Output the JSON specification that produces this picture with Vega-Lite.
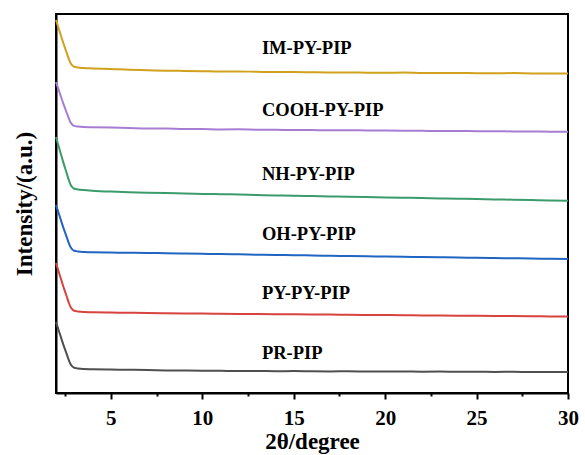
{
"$schema":"https://vega.github.io/schema/vega-lite/v6.json",
"width":512,"height":379,"autosize":{"type":"none"},
"padding":{"left":56,"top":14,"right":17,"bottom":62},
"background":"white",
"datasets":{
"curves":[
{"s":"IM-PY-PIP","x":2.0,"y":373},{"s":"IM-PY-PIP","x":2.1,"y":367.2},{"s":"IM-PY-PIP","x":2.2,"y":361.5},{"s":"IM-PY-PIP","x":2.3,"y":355.7},{"s":"IM-PY-PIP","x":2.4,"y":350},{"s":"IM-PY-PIP","x":2.5,"y":344.7},{"s":"IM-PY-PIP","x":2.6,"y":339.4},{"s":"IM-PY-PIP","x":2.7,"y":334.1},{"s":"IM-PY-PIP","x":2.8,"y":329.8},{"s":"IM-PY-PIP","x":2.9,"y":327.4},{"s":"IM-PY-PIP","x":3.0,"y":326.2},{"s":"IM-PY-PIP","x":3.2,"y":325.5},{"s":"IM-PY-PIP","x":3.5,"y":325},{"s":"IM-PY-PIP","x":4,"y":324.6},{"s":"IM-PY-PIP","x":5,"y":324},{"s":"IM-PY-PIP","x":6,"y":323.2},{"s":"IM-PY-PIP","x":7,"y":322.8},{"s":"IM-PY-PIP","x":8,"y":322.3},{"s":"IM-PY-PIP","x":9,"y":322.1},{"s":"IM-PY-PIP","x":10,"y":321.8},{"s":"IM-PY-PIP","x":11,"y":321.5},{"s":"IM-PY-PIP","x":12,"y":321.6},{"s":"IM-PY-PIP","x":13,"y":321.2},{"s":"IM-PY-PIP","x":14,"y":320.9},{"s":"IM-PY-PIP","x":15,"y":321},{"s":"IM-PY-PIP","x":16,"y":320.7},{"s":"IM-PY-PIP","x":17,"y":320.5},{"s":"IM-PY-PIP","x":18,"y":320.6},{"s":"IM-PY-PIP","x":19,"y":320.3},{"s":"IM-PY-PIP","x":20,"y":320.2},{"s":"IM-PY-PIP","x":21,"y":320.4},{"s":"IM-PY-PIP","x":22,"y":320},{"s":"IM-PY-PIP","x":23,"y":319.9},{"s":"IM-PY-PIP","x":24,"y":320.1},{"s":"IM-PY-PIP","x":25,"y":319.8},{"s":"IM-PY-PIP","x":26,"y":319.7},{"s":"IM-PY-PIP","x":27,"y":319.9},{"s":"IM-PY-PIP","x":28,"y":319.6},{"s":"IM-PY-PIP","x":29,"y":319.5},{"s":"IM-PY-PIP","x":30,"y":319.6},
{"s":"COOH-PY-PIP","x":2.0,"y":311},{"s":"COOH-PY-PIP","x":2.1,"y":305.6},{"s":"COOH-PY-PIP","x":2.2,"y":300.2},{"s":"COOH-PY-PIP","x":2.3,"y":294.8},{"s":"COOH-PY-PIP","x":2.4,"y":289.4},{"s":"COOH-PY-PIP","x":2.5,"y":284.5},{"s":"COOH-PY-PIP","x":2.6,"y":279.5},{"s":"COOH-PY-PIP","x":2.7,"y":274.6},{"s":"COOH-PY-PIP","x":2.8,"y":270.5},{"s":"COOH-PY-PIP","x":2.9,"y":268.3},{"s":"COOH-PY-PIP","x":3.0,"y":267.1},{"s":"COOH-PY-PIP","x":3.2,"y":266.5},{"s":"COOH-PY-PIP","x":3.5,"y":266},{"s":"COOH-PY-PIP","x":4,"y":265.8},{"s":"COOH-PY-PIP","x":5,"y":265.4},{"s":"COOH-PY-PIP","x":6,"y":265},{"s":"COOH-PY-PIP","x":7,"y":264.6},{"s":"COOH-PY-PIP","x":8,"y":264.5},{"s":"COOH-PY-PIP","x":9,"y":264.1},{"s":"COOH-PY-PIP","x":10,"y":264},{"s":"COOH-PY-PIP","x":11,"y":263.6},{"s":"COOH-PY-PIP","x":12,"y":263.7},{"s":"COOH-PY-PIP","x":13,"y":263.3},{"s":"COOH-PY-PIP","x":14,"y":263.2},{"s":"COOH-PY-PIP","x":15,"y":263},{"s":"COOH-PY-PIP","x":16,"y":262.9},{"s":"COOH-PY-PIP","x":17,"y":262.7},{"s":"COOH-PY-PIP","x":18,"y":262.8},{"s":"COOH-PY-PIP","x":19,"y":262.5},{"s":"COOH-PY-PIP","x":20,"y":262.4},{"s":"COOH-PY-PIP","x":21,"y":262.3},{"s":"COOH-PY-PIP","x":22,"y":262.2},{"s":"COOH-PY-PIP","x":23,"y":262},{"s":"COOH-PY-PIP","x":24,"y":262.1},{"s":"COOH-PY-PIP","x":25,"y":261.8},{"s":"COOH-PY-PIP","x":26,"y":261.7},{"s":"COOH-PY-PIP","x":27,"y":261.6},{"s":"COOH-PY-PIP","x":28,"y":261.5},{"s":"COOH-PY-PIP","x":29,"y":261.3},{"s":"COOH-PY-PIP","x":30,"y":261.2},
{"s":"NH-PY-PIP","x":2.0,"y":256},{"s":"NH-PY-PIP","x":2.1,"y":249.6},{"s":"NH-PY-PIP","x":2.2,"y":243.3},{"s":"NH-PY-PIP","x":2.3,"y":236.9},{"s":"NH-PY-PIP","x":2.4,"y":230.6},{"s":"NH-PY-PIP","x":2.5,"y":224.7},{"s":"NH-PY-PIP","x":2.6,"y":218.9},{"s":"NH-PY-PIP","x":2.7,"y":213.1},{"s":"NH-PY-PIP","x":2.8,"y":208.3},{"s":"NH-PY-PIP","x":2.9,"y":205.7},{"s":"NH-PY-PIP","x":3.0,"y":204.3},{"s":"NH-PY-PIP","x":3.2,"y":203.6},{"s":"NH-PY-PIP","x":3.5,"y":203},{"s":"NH-PY-PIP","x":4,"y":202.3},{"s":"NH-PY-PIP","x":5,"y":201.4},{"s":"NH-PY-PIP","x":6,"y":200.8},{"s":"NH-PY-PIP","x":7,"y":200.3},{"s":"NH-PY-PIP","x":8,"y":199.9},{"s":"NH-PY-PIP","x":9,"y":199.6},{"s":"NH-PY-PIP","x":10,"y":199.1},{"s":"NH-PY-PIP","x":11,"y":198.8},{"s":"NH-PY-PIP","x":12,"y":198.5},{"s":"NH-PY-PIP","x":13,"y":198},{"s":"NH-PY-PIP","x":14,"y":197.6},{"s":"NH-PY-PIP","x":15,"y":197.2},{"s":"NH-PY-PIP","x":16,"y":197},{"s":"NH-PY-PIP","x":17,"y":196.6},{"s":"NH-PY-PIP","x":18,"y":196.2},{"s":"NH-PY-PIP","x":19,"y":195.9},{"s":"NH-PY-PIP","x":20,"y":195.6},{"s":"NH-PY-PIP","x":21,"y":195.3},{"s":"NH-PY-PIP","x":22,"y":195},{"s":"NH-PY-PIP","x":23,"y":194.6},{"s":"NH-PY-PIP","x":24,"y":194.3},{"s":"NH-PY-PIP","x":25,"y":194},{"s":"NH-PY-PIP","x":26,"y":193.6},{"s":"NH-PY-PIP","x":27,"y":193.3},{"s":"NH-PY-PIP","x":28,"y":192.9},{"s":"NH-PY-PIP","x":29,"y":192.5},{"s":"NH-PY-PIP","x":30,"y":192.2},
{"s":"OH-PY-PIP","x":2.0,"y":188},{"s":"OH-PY-PIP","x":2.1,"y":182.4},{"s":"OH-PY-PIP","x":2.2,"y":176.7},{"s":"OH-PY-PIP","x":2.3,"y":171.1},{"s":"OH-PY-PIP","x":2.4,"y":165.4},{"s":"OH-PY-PIP","x":2.5,"y":160.3},{"s":"OH-PY-PIP","x":2.6,"y":155.1},{"s":"OH-PY-PIP","x":2.7,"y":149.9},{"s":"OH-PY-PIP","x":2.8,"y":145.7},{"s":"OH-PY-PIP","x":2.9,"y":143.4},{"s":"OH-PY-PIP","x":3.0,"y":142.2},{"s":"OH-PY-PIP","x":3.2,"y":141.5},{"s":"OH-PY-PIP","x":3.5,"y":141},{"s":"OH-PY-PIP","x":4,"y":140.8},{"s":"OH-PY-PIP","x":5,"y":140.5},{"s":"OH-PY-PIP","x":6,"y":140.2},{"s":"OH-PY-PIP","x":7,"y":140.1},{"s":"OH-PY-PIP","x":8,"y":139.7},{"s":"OH-PY-PIP","x":9,"y":139.5},{"s":"OH-PY-PIP","x":10,"y":139.2},{"s":"OH-PY-PIP","x":11,"y":138.9},{"s":"OH-PY-PIP","x":12,"y":138.7},{"s":"OH-PY-PIP","x":13,"y":138.3},{"s":"OH-PY-PIP","x":14,"y":138.1},{"s":"OH-PY-PIP","x":15,"y":137.8},{"s":"OH-PY-PIP","x":16,"y":137.6},{"s":"OH-PY-PIP","x":17,"y":137.2},{"s":"OH-PY-PIP","x":18,"y":137},{"s":"OH-PY-PIP","x":19,"y":136.7},{"s":"OH-PY-PIP","x":20,"y":136.5},{"s":"OH-PY-PIP","x":21,"y":136.2},{"s":"OH-PY-PIP","x":22,"y":136},{"s":"OH-PY-PIP","x":23,"y":135.7},{"s":"OH-PY-PIP","x":24,"y":135.5},{"s":"OH-PY-PIP","x":25,"y":135.2},{"s":"OH-PY-PIP","x":26,"y":135},{"s":"OH-PY-PIP","x":27,"y":134.7},{"s":"OH-PY-PIP","x":28,"y":134.5},{"s":"OH-PY-PIP","x":29,"y":134.2},{"s":"OH-PY-PIP","x":30,"y":134},
{"s":"PY-PY-PIP","x":2.0,"y":130},{"s":"PY-PY-PIP","x":2.1,"y":124.1},{"s":"PY-PY-PIP","x":2.2,"y":118.2},{"s":"PY-PY-PIP","x":2.3,"y":112.4},{"s":"PY-PY-PIP","x":2.4,"y":106.5},{"s":"PY-PY-PIP","x":2.5,"y":101.1},{"s":"PY-PY-PIP","x":2.6,"y":95.7},{"s":"PY-PY-PIP","x":2.7,"y":90.3},{"s":"PY-PY-PIP","x":2.8,"y":85.9},{"s":"PY-PY-PIP","x":2.9,"y":83.5},{"s":"PY-PY-PIP","x":3.0,"y":82.2},{"s":"PY-PY-PIP","x":3.2,"y":81.5},{"s":"PY-PY-PIP","x":3.5,"y":81},{"s":"PY-PY-PIP","x":4,"y":80.8},{"s":"PY-PY-PIP","x":5,"y":80.5},{"s":"PY-PY-PIP","x":6,"y":80.2},{"s":"PY-PY-PIP","x":7,"y":80},{"s":"PY-PY-PIP","x":8,"y":79.8},{"s":"PY-PY-PIP","x":9,"y":79.6},{"s":"PY-PY-PIP","x":10,"y":79.5},{"s":"PY-PY-PIP","x":11,"y":79.3},{"s":"PY-PY-PIP","x":12,"y":79.1},{"s":"PY-PY-PIP","x":13,"y":79},{"s":"PY-PY-PIP","x":14,"y":78.8},{"s":"PY-PY-PIP","x":15,"y":78.7},{"s":"PY-PY-PIP","x":16,"y":78.5},{"s":"PY-PY-PIP","x":17,"y":78.4},{"s":"PY-PY-PIP","x":18,"y":78.2},{"s":"PY-PY-PIP","x":19,"y":78.1},{"s":"PY-PY-PIP","x":20,"y":77.9},{"s":"PY-PY-PIP","x":21,"y":77.8},{"s":"PY-PY-PIP","x":22,"y":77.6},{"s":"PY-PY-PIP","x":23,"y":77.5},{"s":"PY-PY-PIP","x":24,"y":77.3},{"s":"PY-PY-PIP","x":25,"y":77.2},{"s":"PY-PY-PIP","x":26,"y":77},{"s":"PY-PY-PIP","x":27,"y":76.9},{"s":"PY-PY-PIP","x":28,"y":76.7},{"s":"PY-PY-PIP","x":29,"y":76.6},{"s":"PY-PY-PIP","x":30,"y":76.4},
{"s":"PR-PIP","x":2.0,"y":71},{"s":"PR-PIP","x":2.1,"y":65.4},{"s":"PR-PIP","x":2.2,"y":59.7},{"s":"PR-PIP","x":2.3,"y":54.1},{"s":"PR-PIP","x":2.4,"y":48.4},{"s":"PR-PIP","x":2.5,"y":43.3},{"s":"PR-PIP","x":2.6,"y":38.1},{"s":"PR-PIP","x":2.7,"y":32.9},{"s":"PR-PIP","x":2.8,"y":28.7},{"s":"PR-PIP","x":2.9,"y":26.4},{"s":"PR-PIP","x":3.0,"y":25.2},{"s":"PR-PIP","x":3.2,"y":24.5},{"s":"PR-PIP","x":3.5,"y":24},{"s":"PR-PIP","x":4,"y":23.8},{"s":"PR-PIP","x":5,"y":23.5},{"s":"PR-PIP","x":6,"y":23.2},{"s":"PR-PIP","x":7,"y":23},{"s":"PR-PIP","x":8,"y":22.6},{"s":"PR-PIP","x":9,"y":22.4},{"s":"PR-PIP","x":10,"y":22.3},{"s":"PR-PIP","x":11,"y":22.2},{"s":"PR-PIP","x":12,"y":22},{"s":"PR-PIP","x":13,"y":22.1},{"s":"PR-PIP","x":14,"y":21.8},{"s":"PR-PIP","x":15,"y":21.9},{"s":"PR-PIP","x":16,"y":21.7},{"s":"PR-PIP","x":17,"y":21.6},{"s":"PR-PIP","x":18,"y":21.7},{"s":"PR-PIP","x":19,"y":21.5},{"s":"PR-PIP","x":20,"y":21.4},{"s":"PR-PIP","x":21,"y":21.5},{"s":"PR-PIP","x":22,"y":21.3},{"s":"PR-PIP","x":23,"y":21.4},{"s":"PR-PIP","x":24,"y":21.2},{"s":"PR-PIP","x":25,"y":21.3},{"s":"PR-PIP","x":26,"y":21.1},{"s":"PR-PIP","x":27,"y":21.2},{"s":"PR-PIP","x":28,"y":21},{"s":"PR-PIP","x":29,"y":21.1},{"s":"PR-PIP","x":30,"y":21}
],
"labels":[
{"label":"IM-PY-PIP","x":13.26,"y":345},
{"label":"COOH-PY-PIP","x":13.26,"y":283},
{"label":"NH-PY-PIP","x":13.26,"y":219},
{"label":"OH-PY-PIP","x":13.26,"y":159},
{"label":"PY-PY-PIP","x":13.26,"y":100},
{"label":"PR-PIP","x":13.26,"y":40}
]
},
"layer":[
{
"data":{"name":"curves"},
"mark":{"type":"line","strokeWidth":2,"interpolate":"monotone"},
"encoding":{
"x":{"field":"x","type":"quantitative","scale":{"domain":[2,30],"nice":false,"zero":false},
"axis":{"title":"2θ/degree","values":[5,10,15,20,25,30],"tickSize":6,"tickWidth":2,"tickColor":"black","labelPadding":8,"titlePadding":2,"labelFlush":false,"labelOverlap":false,
"domainColor":"black","domainWidth":2,
"labelFont":"Liberation Serif","labelFontWeight":"bold","labelFontSize":21,"labelColor":"black",
"titleFont":"Liberation Serif","titleFontWeight":"bold","titleFontSize":23,"titleColor":"black"}},
"y":{"field":"y","type":"quantitative","scale":{"domain":[0,379],"nice":false,"zero":false},
"axis":{"title":"Intensity/(a.u.)","labels":false,"ticks":false,"titlePadding":20,
"domainColor":"black","domainWidth":2,
"titleFont":"Liberation Serif","titleFontWeight":"bold","titleFontSize":23,"titleColor":"black"}},
"color":{"field":"s","type":"nominal","legend":null,
"scale":{"domain":["IM-PY-PIP","COOH-PY-PIP","NH-PY-PIP","OH-PY-PIP","PY-PY-PIP","PR-PIP"],
"range":["#D1A11E","#A77DD4","#3B9C6B","#2065C2","#D8423F","#4F4F4F"]}}
}
},
{
"data":{"name":"labels"},
"mark":{"type":"text","align":"left","baseline":"middle","font":"Liberation Serif","fontWeight":"bold","fontSize":18.5,"color":"black"},
"encoding":{
"x":{"field":"x","type":"quantitative","scale":{"domain":[2,30],"nice":false,"zero":false},
"axis":{"orient":"bottom","title":null,"values":[2.5,7.5,12.5,17.5,22.5,27.5],"tickSize":3,"tickWidth":2,"tickColor":"black","labels":false,"domain":false}},
"y":{"field":"y","type":"quantitative","scale":{"domain":[0,379],"nice":false,"zero":false},"axis":null},
"text":{"field":"label","type":"nominal"}
}
}
],
"resolve":{"axis":{"x":"independent","y":"independent"}},
"config":{
"view":{"stroke":"black","strokeWidth":2},
"axis":{"grid":false}
}
}
